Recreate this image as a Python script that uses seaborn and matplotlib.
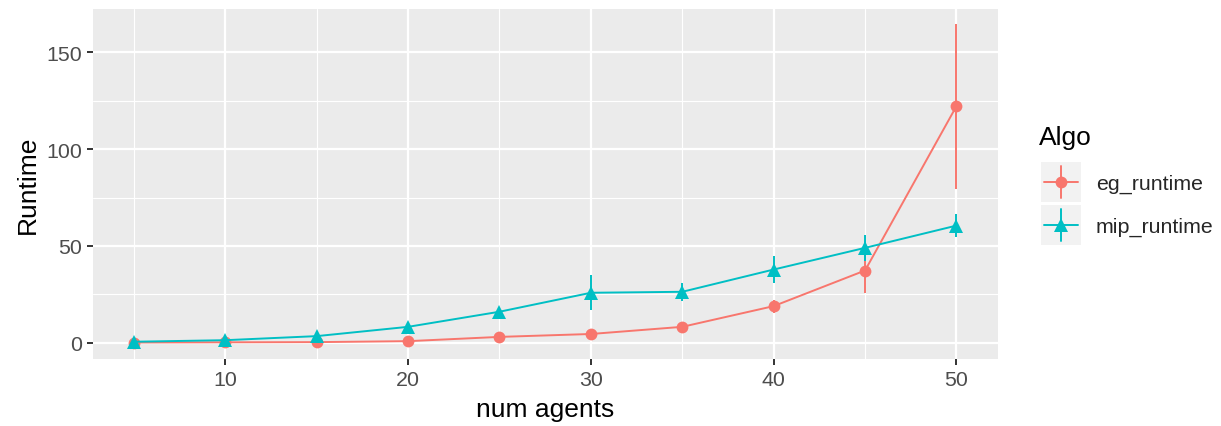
import pandas as pd
import matplotlib
matplotlib.use("Agg")
import matplotlib.pyplot as plt
import seaborn as sns
from matplotlib.lines import Line2D
from matplotlib.patches import Rectangle
from matplotlib.legend_handler import HandlerBase

# values
num_agents = [5, 10, 15, 20, 25, 30, 35, 40, 45, 50]
eg_runtime = [0.1, 0.2, 0.3, 0.8, 3.0, 4.5, 8.2, 18.9, 37.3, 122.2]
eg_sd = [0.05, 0.1, 0.1, 0.3, 0.6, 1.0, 1.5, 3.4, 11.8, 42.6]
mip_runtime = [0.5, 1.3, 3.4, 8.2, 16.0, 25.8, 26.3, 37.8, 49.0, 60.5]
mip_sd = [0.2, 0.3, 0.6, 1.0, 1.6, 9.0, 4.6, 7.0, 6.9, 5.8]
algos = ["eg_runtime", "mip_runtime"]
colors = {"eg_runtime": "#F8766D", "mip_runtime": "#00BFC4"}
markers = {"eg_runtime": "o", "mip_runtime": "^"}
msizes = {"eg_runtime": 8.5, "mip_runtime": 10.5}

df = pd.DataFrame({
    "num agents": num_agents * 2,
    "Runtime": eg_runtime + mip_runtime,
    "sd": eg_sd + mip_sd,
    "Algo": ["eg_runtime"] * len(num_agents) + ["mip_runtime"] * len(num_agents),
})


class Key:
    def __init__(self, color, marker, size):
        self.color = color
        self.marker = marker
        self.size = size


class KeyHandler(HandlerBase):
    # ggplot-like key: grey square, horizontal line, vertical bar, marker
    def create_artists(self, legend, orig_handle, xdescent, ydescent,
                       width, height, fontsize, trans):
        x0, y0 = -xdescent, -ydescent
        cx, cy = x0 + width / 2, y0 + height / 2
        c = orig_handle.color
        bg = Rectangle((x0, y0), width, height, facecolor="#F2F2F2",
                       edgecolor="none", transform=trans)
        hl = Line2D([x0 + 0.08 * width, x0 + 0.92 * width], [cy, cy],
                    color=c, lw=1.4, transform=trans)
        vl = Line2D([cx, cx], [y0 + 0.1 * height, y0 + 0.9 * height],
                    color=c, lw=1.4, transform=trans)
        pt = Line2D([cx], [cy], marker=orig_handle.marker, ms=orig_handle.size,
                    mew=0, color=c, ls="none", transform=trans)
        return [bg, hl, vl, pt]


sns.set_theme(style="darkgrid")
plt.rcParams["font.family"] = ["Liberation Sans", "DejaVu Sans"]

fig = plt.figure(figsize=(12.21, 4.27), dpi=100)
ax = fig.add_axes([0.076, 0.157, 0.741, 0.820])
ax.set_facecolor("#EBEBEB")

sns.lineplot(
    data=df, x="num agents", y="Runtime", hue="Algo", style="Algo",
    hue_order=algos, style_order=algos, palette=colors, markers=markers,
    dashes=False, errorbar=None, legend=False, ax=ax,
    lw=1.4, ms=8.5, mew=0, zorder=3,
)
for line, algo in zip(ax.lines, algos):
    line.set_markersize(msizes[algo])
for algo in algos:
    sub = df[df["Algo"] == algo]
    ax.errorbar(sub["num agents"], sub["Runtime"], yerr=sub["sd"], fmt="none",
                ecolor=colors[algo], elinewidth=1.4, capsize=0, zorder=2.5)

ax.set_xlim(2.75, 52.25)
ax.set_ylim(-8.4, 172.5)
ax.set_xticks([10, 20, 30, 40, 50])
ax.set_xticks([5, 15, 25, 35, 45], minor=True)
ax.set_yticks([0, 50, 100, 150])
ax.set_yticks([25, 75, 125], minor=True)
ax.grid(which="major", color="white", lw=1.6)
ax.grid(which="minor", color="white", lw=0.8)
ax.set_axisbelow(True)
for s in ax.spines.values():
    s.set_visible(False)
ax.tick_params(which="major", length=4.5, width=1.4, color="#333333",
               labelsize=15.4, labelcolor="#4D4D4D")
ax.tick_params(axis="x", pad=3.5)
ax.tick_params(axis="y", pad=3)
ax.tick_params(which="minor", length=0)
ax.tick_params(axis="x", bottom=True)
ax.tick_params(axis="y", left=True)
ax.set_xlabel("num agents", fontsize=19, color="black", labelpad=6)
ax.set_ylabel("Runtime", fontsize=19, color="black", labelpad=4.5)

fig.text(1039 / 1221, 1 - 145 / 427, "Algo", fontsize=19, color="black",
         ha="left", va="baseline")
handles = [Key(colors[a], markers[a], msizes[a]) for a in algos]
leg = fig.legend(handles, algos, loc="upper left",
                 bbox_to_anchor=(1041 / 1221, 1 - 163 / 427), frameon=False,
                 fontsize=15.4, handlelength=1.87, handleheight=2.5,
                 handletextpad=0.7, labelspacing=0.14, borderpad=0,
                 borderaxespad=0, handler_map={Key: KeyHandler()})

fig.savefig("out.png", dpi=100)
